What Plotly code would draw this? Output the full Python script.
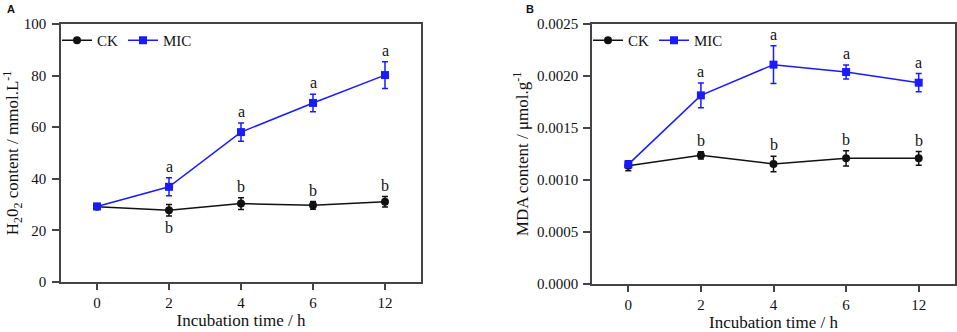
import plotly.graph_objects as go

times = ["0", "2", "4", "6", "12"]

h2o2_ck = [29.2, 27.8, 30.4, 29.7, 31.1]
h2o2_ck_err = [0.9, 2.2, 2.3, 1.5, 2.0]
h2o2_mic = [29.3, 36.9, 58.1, 69.4, 80.2]
h2o2_mic_err = [0.8, 3.5, 3.55, 3.4, 5.2]
h2o2_ck_letters = ["", "b", "b", "b", "b"]
h2o2_mic_letters = ["", "a", "a", "a", "a"]

mda_ck = [0.001138, 0.001237, 0.001154, 0.001208, 0.001208]
mda_ck_err = [0.000048, 0.000035, 0.000075, 0.000074, 0.000066]
mda_mic = [0.00115, 0.001814, 0.002109, 0.002038, 0.001936]
mda_mic_err = [0.00003, 0.000119, 0.000181, 0.000067, 0.000087]
mda_ck_letters = ["", "b", "b", "b", "b"]
mda_mic_letters = ["", "a", "a", "a", "a"]

W, H = 957, 332
FONT = "Liberation Serif, Times New Roman, serif"
BLUE = "#1a1aff"
BLACK = "#111111"

fig = go.Figure()
xi = list(range(len(times)))

def add_series(y, err, name, color, symbol, xa, ya):
    fig.add_trace(go.Scatter(
        x=xi, y=y, name=name, mode="lines+markers",
        line=dict(color=color, width=1.5),
        marker=dict(symbol=symbol, size=8, color=color),
        error_y=dict(type="data", array=err, color=color, thickness=1.5, width=3),
        xaxis=xa, yaxis=ya, showlegend=True, legend="legend" if xa == "x" else "legend2",
    ))

add_series(h2o2_ck, h2o2_ck_err, "CK", BLACK, "circle", "x", "y")
add_series(h2o2_mic, h2o2_mic_err, "MIC", BLUE, "square", "x", "y")
add_series(mda_ck, mda_ck_err, "CK", BLACK, "circle", "x2", "y2")
add_series(mda_mic, mda_mic_err, "MIC", BLUE, "square", "x2", "y2")

annotations = []
def add_letters(y, err, letters, xref, yref, below_idx=()):
    for i, (v, e, l) in enumerate(zip(y, err, letters)):
        if not l:
            continue
        below = i in below_idx
        annotations.append(dict(x=xi[i], y=(v - e) if below else (v + e), text=l,
                                xref=xref, yref=yref, showarrow=False,
                                yanchor="top" if below else "bottom",
                                yshift=-1 if below else 1,
                                font=dict(family=FONT, size=16, color="#111")))

add_letters(h2o2_ck, h2o2_ck_err, h2o2_ck_letters, "x", "y", below_idx=(1,))
add_letters(h2o2_mic, h2o2_mic_err, h2o2_mic_letters, "x", "y")
add_letters(mda_ck, mda_ck_err, mda_ck_letters, "x2", "y2")
add_letters(mda_mic, mda_mic_err, mda_mic_letters, "x2", "y2")

annotations.append(dict(x=5 / W, y=1 - 1 / H, xref="paper", yref="paper", text="<b>A</b>",
                        showarrow=False, xanchor="left", yanchor="top",
                        font=dict(family="Liberation Sans, Arial, sans-serif", size=11, color="#111")))
annotations.append(dict(x=524 / W, y=1 - 1 / H, xref="paper", yref="paper", text="<b>B</b>",
                        showarrow=False, xanchor="left", yanchor="top",
                        font=dict(family="Liberation Sans, Arial, sans-serif", size=11, color="#111")))

axis_common = dict(showgrid=False, zeroline=False, showline=True, mirror=True,
                   linecolor="#444", linewidth=1.5, ticks="outside",
                   tickcolor="#444", tickwidth=1.5, automargin=False,
                   tickfont=dict(family=FONT, size=15, color="#111"))

TITLE_FONT = dict(family=FONT, size=17, color="#111")

fig.update_layout(
    template="none",
    width=W, height=H,
    margin=dict(l=0, r=0, t=0, b=0, pad=0),
    plot_bgcolor="white", paper_bgcolor="white",
    font=dict(family=FONT, color="#111", size=16),
    xaxis=dict(domain=[61 / W, 421 / W], range=[-0.5, 4.5], tickvals=xi, ticktext=times,
               title=dict(text="Incubation time / h", font=TITLE_FONT, standoff=4),
               anchor="y", ticklen=6, **axis_common),
    yaxis=dict(domain=[1 - 282 / H, 1 - 24 / H], range=[0, 100], tickvals=[0, 20, 40, 60, 80, 100],
               title=dict(text="H<sub>2</sub>0<sub>2</sub> content / mmol.L<sup>-1</sup>",
                          font=TITLE_FONT, standoff=4),
               anchor="x", ticklen=7, ticklabelstandoff=3, **axis_common),
    xaxis2=dict(domain=[592 / W, 955 / W], range=[-0.5, 4.5], tickvals=xi, ticktext=times,
                title=dict(text="Incubation time / h", font=TITLE_FONT, standoff=4),
                anchor="y2", ticklen=6, **axis_common),
    yaxis2=dict(domain=[1 - 284 / H, 1 - 24 / H], range=[0, 0.0025],
                tickvals=[0, 0.0005, 0.001, 0.0015, 0.002, 0.0025],
                ticktext=["0.0000", "0.0005", "0.0010", "0.0015", "0.0020", "0.0025"],
                title=dict(text="MDA content / μmol.g<sup>-1</sup>",
                           font=TITLE_FONT, standoff=4),
                anchor="x2", ticklen=7, ticklabelstandoff=2, **axis_common),
    legend=dict(x=57 / W, y=1 - 24 / H, xanchor="left", yanchor="top", orientation="h",
                bgcolor="rgba(0,0,0,0)", font=dict(family=FONT, size=15, color="#111"),
                itemwidth=30, tracegroupgap=0),
    legend2=dict(x=588 / W, y=1 - 24 / H, xanchor="left", yanchor="top", orientation="h",
                 bgcolor="rgba(0,0,0,0)", font=dict(family=FONT, size=15, color="#111"),
                 itemwidth=30, tracegroupgap=0),
    annotations=annotations,
)

fig.write_html("out.html", config={"displayModeBar": False},
               post_script="document.body.style.margin='0';document.body.style.overflow='hidden';")
